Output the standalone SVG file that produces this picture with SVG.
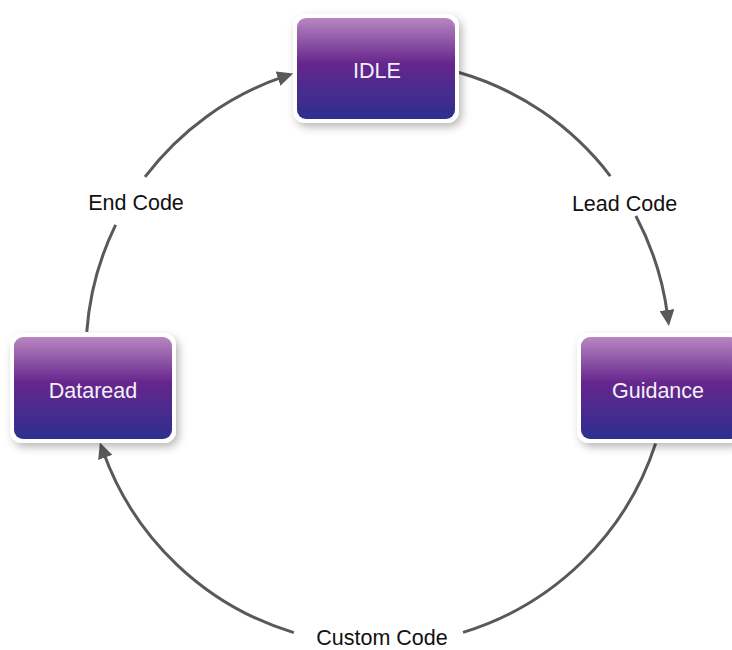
<svg xmlns="http://www.w3.org/2000/svg" width="732" height="650" viewBox="0 0 732 650">
<style>
.lbl{font-family:"Liberation Sans",Arial,sans-serif;font-size:21.5px;fill:#111;text-anchor:middle}
.ntx{font-family:"Liberation Sans",Arial,sans-serif;font-size:21.5px;fill:#f4f0f6;text-anchor:middle}
.edge{fill:none;stroke:#595959;stroke-width:3}
.frame{fill:#fff;filter:url(#sh)}
.body{fill:url(#g)}
</style>
<defs>
<linearGradient id="g" x1="0" y1="0" x2="0" y2="1">
<stop offset="0" stop-color="#b986c1"/>
<stop offset="0.45" stop-color="#65268d"/>
<stop offset="1" stop-color="#2d2f8f"/>
</linearGradient>
<filter id="sh" x="-20%" y="-20%" width="150%" height="150%">
<feDropShadow dx="3" dy="4" stdDeviation="4" flood-color="#000" flood-opacity="0.28"/>
</filter>
<marker id="ah" viewBox="0 0 16 15" markerWidth="16" markerHeight="15" refX="6" refY="7.5" orient="auto" markerUnits="userSpaceOnUse">
<path d="M0,0 L16,7.5 L0,15 z" fill="#595959"/>
</marker>
</defs>
<g id="connectors">
<path class="edge" d="M86.76,331.97 A292,292 0 0 1 115.64,224.8"/>
<path class="edge" d="M145.02,176.97 A292,292 0 0 1 283.67,76.66" marker-end="url(#ah)"/>
<path class="edge" d="M458.22,72.24 A292,292 0 0 1 610.28,176.05"/>
<path class="edge" d="M635.87,216.02 A292,292 0 0 1 667.65,316" marker-end="url(#ah)"/>
<path class="edge" d="M655.61,443.53 A292,292 0 0 1 463.08,632.33"/>
<path class="edge" d="M293.8,632.6 A292,292 0 0 1 103.22,451.82" marker-end="url(#ah)"/>
<text class="lbl" x="136" y="210">End Code</text>
<text class="lbl" x="624.5" y="211">Lead Code</text>
<text class="lbl" x="382" y="645">Custom Code</text>
</g>
<g id="node-idle">
<rect class="frame" x="293" y="14" width="166" height="109" rx="12"/>
<rect class="body" x="297" y="18" width="158" height="101" rx="9"/>
<text class="ntx" x="377" y="78">IDLE</text>
</g>
<g id="node-dataread">
<rect class="frame" x="10" y="333" width="166" height="110" rx="12"/>
<rect class="body" x="14" y="337" width="158" height="102" rx="9"/>
<text class="ntx" x="93" y="397.5">Dataread</text>
</g>
<g id="node-guidance">
<rect class="frame" x="577" y="333" width="166" height="110" rx="12"/>
<rect class="body" x="581" y="337" width="158" height="102" rx="9"/>
<text class="ntx" x="658" y="397.5">Guidance</text>
</g>
</svg>
